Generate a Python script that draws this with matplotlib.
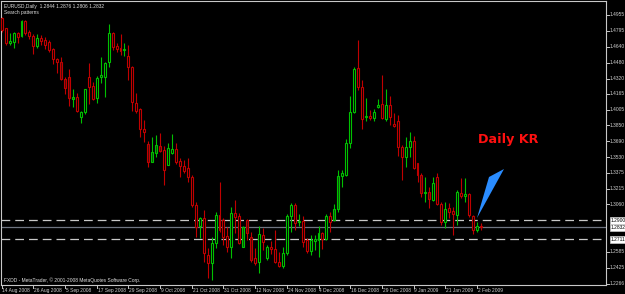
import matplotlib
matplotlib.use("Agg")
import matplotlib.pyplot as plt
import numpy as np
from matplotlib.patches import Polygon

# ---- data (OHLC, EURUSD Daily) ----
opens = [1.4925,1.4825,1.4675,1.4685,1.4775,1.4745,1.4895,1.4785,1.4745,1.4645,
         1.4725,1.4705,1.4685,1.4615,1.4515,1.4485,1.4315,1.4335,1.4120,1.4135,
         1.3935,1.3985,1.4335,1.4245,1.4125,1.4340,1.4335,1.4485,1.4775,1.4645,
         1.4625,1.4610,1.4545,1.4435,1.4080,1.4015,1.3815,1.3665,1.3485,1.3575,
         1.3645,1.3605,1.3455,1.3575,1.3615,1.3495,1.3445,1.3425,1.3335,1.3055,
         1.2845,1.2925,1.2555,1.2475,1.2675,1.2955,1.2905,1.2745,1.2635,1.2975,
         1.2945,1.2635,1.2905,1.2735,1.2525,1.2485,1.2755,1.2525,1.2635,1.2615,
         1.2485,1.2445,1.2575,1.2945,1.3055,1.2885,1.2895,1.2705,1.2595,1.2695,
         1.2705,1.2775,1.2715,1.2945,1.2905,1.3015,1.3345,1.3355,1.3675,1.3985,
         1.4425,1.4235,1.3935,1.3945,1.3925,1.4035,1.4065,1.3915,1.4055,1.3865,
         1.3895,1.3635,1.3535,1.3635,1.3695,1.3475,1.3355,1.3175,1.3185,1.3105,
         1.3335,1.3065,1.2885,1.3025,1.2995,1.2955,1.3175,1.3145,1.3165,1.2945,
         1.2805,1.2844]
highs = [1.4935,1.4825,1.4775,1.4785,1.4785,1.4905,1.4910,1.4810,1.4770,1.4770,
         1.4755,1.4740,1.4710,1.4625,1.4530,1.4535,1.4340,1.4420,1.4220,1.4180,
         1.3995,1.4220,1.4475,1.4290,1.4350,1.4535,1.4485,1.4865,1.4790,1.4675,
         1.4765,1.4675,1.4655,1.4445,1.4175,1.4025,1.3905,1.3695,1.3735,1.3755,
         1.3775,1.3645,1.3675,1.3765,1.3675,1.3525,1.3505,1.3525,1.3355,1.3085,
         1.2935,1.3005,1.2625,1.2735,1.2985,1.3285,1.2925,1.2835,1.3035,1.3105,
         1.2975,1.2845,1.2915,1.2785,1.2625,1.2845,1.2825,1.2655,1.2695,1.2805,
         1.2585,1.2635,1.2965,1.3075,1.3075,1.2965,1.2945,1.2725,1.2755,1.2755,
         1.2845,1.2785,1.2965,1.2985,1.3065,1.3405,1.3405,1.3715,1.4145,1.4435,
         1.4705,1.4305,1.4125,1.4005,1.4015,1.4115,1.4355,1.4215,1.4145,1.3975,
         1.3955,1.3655,1.3735,1.3785,1.3745,1.3475,1.3375,1.3335,1.3235,1.3335,
         1.3375,1.3085,1.3085,1.3075,1.3035,1.3205,1.3325,1.3325,1.3175,1.2955,
         1.2885,1.2876]
lows = [1.4785,1.4655,1.4655,1.4625,1.4675,1.4735,1.4760,1.4720,1.4565,1.4630,
        1.4655,1.4620,1.4590,1.4465,1.4380,1.4305,1.4170,1.4045,1.4040,1.3990,
        1.3880,1.3965,1.4070,1.4105,1.4075,1.4275,1.4135,1.4435,1.4605,1.4585,
        1.4555,1.4545,1.4305,1.3995,1.3975,1.3735,1.3685,1.3435,1.3485,1.3535,
        1.3585,1.3255,1.3455,1.3565,1.3465,1.3335,1.3375,1.3285,1.3035,1.2735,
        1.2725,1.2485,1.2325,1.2305,1.2625,1.2785,1.2655,1.2585,1.2525,1.2775,
        1.2665,1.2635,1.2705,1.2485,1.2455,1.2375,1.2605,1.2505,1.2565,1.2475,
        1.2435,1.2425,1.2555,1.2785,1.2805,1.2845,1.2635,1.2575,1.2555,1.2600,
        1.2535,1.2615,1.2705,1.2785,1.2895,1.2985,1.3235,1.3345,1.3625,1.3975,
        1.4205,1.3815,1.3895,1.3905,1.3895,1.4025,1.3915,1.3895,1.3855,1.3835,
        1.3545,1.3305,1.3435,1.3535,1.3415,1.3285,1.3135,1.3085,1.3025,1.3095,
        1.3055,1.2855,1.2825,1.2925,1.2755,1.2855,1.3125,1.3085,1.2935,1.2765,
        1.2785,1.2806]
closes = [1.4805,1.4675,1.4695,1.4775,1.4735,1.4895,1.4775,1.4745,1.4645,1.4725,
          1.4695,1.4655,1.4605,1.4515,1.4485,1.4315,1.4225,1.4125,1.4130,1.3995,
          1.3985,1.4215,1.4235,1.4115,1.4325,1.4355,1.4475,1.4775,1.4635,1.4615,
          1.4595,1.4620,1.4435,1.4085,1.3995,1.3815,1.3785,1.3485,1.3585,1.3655,
          1.3595,1.3405,1.3625,1.3615,1.3485,1.3445,1.3395,1.3335,1.3055,1.2835,
          1.2925,1.2575,1.2475,1.2675,1.2955,1.2805,1.2735,1.2635,1.2975,1.2935,
          1.2675,1.2835,1.2775,1.2505,1.2475,1.2765,1.2685,1.2635,1.2615,1.2485,
          1.2445,1.2575,1.2945,1.3055,1.2875,1.2895,1.2685,1.2595,1.2705,1.2715,
          1.2775,1.2715,1.2945,1.2885,1.3015,1.3345,1.3375,1.3675,1.3985,1.4415,
          1.4235,1.3915,1.3945,1.3925,1.3985,1.4055,1.3925,1.4055,1.3935,1.3845,
          1.3635,1.3535,1.3635,1.3695,1.3425,1.3355,1.3175,1.3185,1.3115,1.3275,
          1.3065,1.2885,1.3015,1.2985,1.2965,1.3185,1.3145,1.3165,1.2955,1.2805,
          1.2845,1.2832]
# bars shaded by the pattern search
shaded_bars = [15, 16, 17, 18, 37, 38, 39, 40, 61, 62, 63, 84, 85, 105, 106, 107, 108]

date_labels = ["14 Aug 2008", "26 Aug 2008", "5 Sep 2008", "17 Sep 2008", "29 Sep 2008",
               "9 Oct 2008", "21 Oct 2008", "31 Oct 2008", "12 Nov 2008", "24 Nov 2008",
               "4 Dec 2008", "16 Dec 2008", "29 Dec 2008", "9 Jan 2009", "21 Jan 2009",
               "2 Feb 2009"]
date_label_step = 8

price_ticks = [1.4955, 1.4795, 1.4640, 1.4480, 1.4320, 1.4165, 1.4005, 1.3850, 1.3690,
               1.3530, 1.3375, 1.3215, 1.3060, 1.2585, 1.2425, 1.2266]
level_upper = 1.2900
level_lower = 1.2711
last_price = 1.2832

FONT = ["Liberation Sans", "DejaVu Sans"]
plt.rcParams["font.family"] = FONT

W, H = 625, 294
fig = plt.figure(figsize=(W / 100, H / 100), dpi=100, facecolor="black")
L, R, T, B = 1, 606, 1, 285
ax = fig.add_axes([L / W, 1 - B / H, (R - L) / W, (B - T) / H])
ax.set_facecolor("black")
for s in ax.spines.values():
    s.set_color("#c8c8c8")
    s.set_linewidth(0.8)

n = len(opens)
o = np.array(opens); h = np.array(highs); l = np.array(lows); c = np.array(closes)
up = c >= o

green = "#00c000"
red = "#c00000"
for i in range(n):
    col = green if up[i] else red
    if i in shaded_bars:
        fill = "#0b4a0b" if up[i] else "#4a0808"
    else:
        fill = "black"
    lo_b = min(o[i], c[i]); hi_b = max(o[i], c[i])
    ax.vlines(i, hi_b, h[i], color=col, lw=0.8, zorder=2)
    ax.vlines(i, l[i], lo_b, color=col, lw=0.8, zorder=2)
    hgt = max(hi_b - lo_b, 0.0004)
    ax.bar(i, hgt, bottom=lo_b if hi_b - lo_b > 0.0004 else lo_b - 0.0002,
           width=0.5, facecolor=fill, edgecolor=col, linewidth=0.8, zorder=3)

# levels
ax.axhline(level_upper, color="#c8c8c8", lw=0.9, dashes=(7, 4), zorder=1)
ax.axhline(level_lower, color="#c8c8c8", lw=0.9, dashes=(7, 4), zorder=1)
ax.axhline(last_price, color="#6e7480", lw=0.9, zorder=1)

px_per_bar = 3.96
x0 = 1.7
ax.set_xlim((L - x0) / px_per_bar, (R - x0) / px_per_bar)
ax.set_ylim(1.5105 - 0.001 * B, 1.5105 - 0.001 * T)
ax.set_xticks([]); ax.set_yticks([])

fs = 3.5
ylo, yhi = ax.get_ylim()
# price scale on the right
for p in price_ticks:
    yy = (p - ylo) / (yhi - ylo)
    ax.plot([1.0, 1.005], [yy, yy], transform=ax.transAxes, color="#c8c8c8",
            lw=0.7, clip_on=False)
    ax.text(1.006, yy, f"{p:.4f}", transform=ax.transAxes, color="#d0d0d0",
            fontsize=fs, va="center", ha="left")
for p in [level_upper, last_price, level_lower]:
    yy = (p - ylo) / (yhi - ylo)
    ax.text(1.007, yy, f"{p:.4f}", transform=ax.transAxes, color="black",
            fontsize=fs, va="center", ha="left",
            bbox=dict(boxstyle="square,pad=0.15", fc="white", ec="#c8c8c8", lw=0.5))

# date labels
for k, lab in enumerate(date_labels):
    i = k * date_label_step
    ax.plot([i, i], [0, -0.012], transform=ax.get_xaxis_transform(),
            color="#c8c8c8", lw=0.7, clip_on=False)
    ax.text(i + 0.2, -0.012, lab, transform=ax.get_xaxis_transform(),
            color="#d0d0d0", fontsize=fs, va="top", ha="left")

# header texts
fig.text(4 / W, 1 - 4 / H, "EURUSD,Daily  1.2844 1.2876 1.2806 1.2832", color="#e0e0e0",
         fontsize=fs, va="top", ha="left")
fig.text(4 / W, 1 - 10 / H, "Search patterns", color="#e0e0e0",
         fontsize=fs, va="top", ha="left")
fig.text(4 / W, 1 - 277 / H, "FXDD - MetaTrader, \u00a9 2001-2008 MetaQuotes Software Corp.",
         color="#e0e0e0", fontsize=fs, va="top", ha="left")

# annotation
fig.text(478 / W, 1 - 140 / H, "Daily KR", color="#ff1010", fontsize=9.2,
         fontweight="bold", va="center", ha="left", family=["DejaVu Sans"])
tri_px = [(477, 218), (489, 177), (504, 169)]
tri = Polygon([(x / W, 1 - y / H) for x, y in tri_px], closed=True,
              transform=fig.transFigure, facecolor="#2a8cff", edgecolor="none", zorder=5)
fig.patches.append(tri)

fig.savefig("out.png", dpi=100, facecolor="black")
